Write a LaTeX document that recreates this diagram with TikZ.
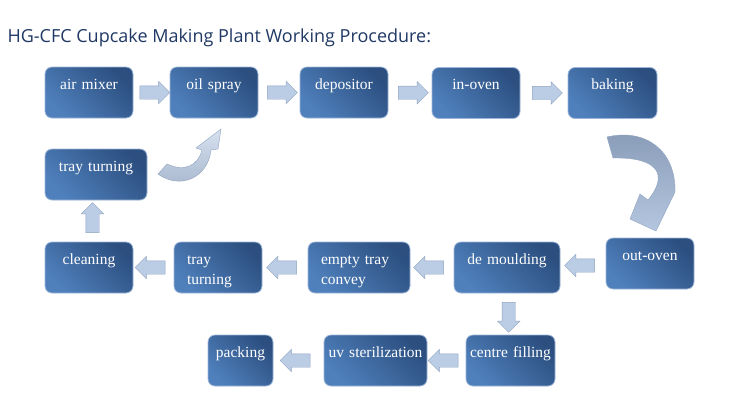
\documentclass[tikz,border=0pt]{standalone}
\usepackage{fontspec}
\setmainfont{Liberation Serif}
\newfontfamily\titlefont{Open Sans}
\usetikzlibrary{shapes.arrows,calc}

\definecolor{boxlight}{HTML}{4F80BC}
\definecolor{boxdark}{HTML}{2C4F80}
\definecolor{boxedge}{HTML}{9DB6D8}
\definecolor{arrowfill}{HTML}{BBCDE5}
\definecolor{arrowedge}{HTML}{8FA3C0}
\definecolor{titleblue}{HTML}{1F3864}

\tikzset{
  stepbox/.style={rounded corners=7pt, draw=boxedge, line width=0.8pt,
    top color=boxdark, bottom color=boxlight, shading angle=-45,
    text=white, font=\fontsize{15.5}{20}\selectfont,
    inner xsep=0pt, inner ysep=0pt, text width=#1, align=center,
    minimum height=51pt, text height=22pt, text depth=29pt},
  stepbox/.default=88pt,
  twoline/.style={inner xsep=13pt, text width=#1, align=left},
  flowarrow/.style={single arrow, fill=arrowfill, draw=arrowedge, line width=0.4pt,
    inner sep=6.5pt, single arrow head extend=4.5pt,
    minimum height=30pt},
  bendarrow/.style={draw=arrowedge, line width=0.4pt}
}

\begin{document}
\begin{tikzpicture}[x=1pt, y=-1pt]
          \useasboundingbox (0,0) rectangle (750,400);

          \node[anchor=base west, text=titleblue, font=\titlefont\fontsize{18}{22}\selectfont] (title) at (4,42) {HG-CFC Cupcake Making Plant Working Procedure:};

          % top row
          \node[stepbox] (am) at (89,92.5) {air mixer};
          \node[stepbox] (os) at (214,92.5) {oil spray};
          \node[stepbox] (dep) at (344,92.5) {depositor};
          \node[stepbox] (io) at (476,93) {in-oven};
          \node[stepbox=89pt] (bak) at (612.5,93) {baking};
          \node[stepbox=102pt] (tt1) at (96,174.5) {tray turning};

          % middle row
          \node[stepbox] (cl) at (89,267.5) {cleaning};
          \node[stepbox, twoline=62pt] (tt2) at (218,267.5) {tray\\turning};
          \node[stepbox, twoline=76pt] (etc) at (359,267.5) {empty tray\\convey};
          \node[stepbox=106pt] (dm) at (507,267.5) {de moulding};
          \node[stepbox] (oo) at (650,263.5) {out-oven};

          % bottom row
          \node[stepbox=65pt] (pk) at (240.5,360.5) {packing};
          \node[stepbox=103pt] (uv) at (375.5,360.5) {uv sterilization};
          \node[stepbox=89pt] (cf) at (510.5,360.5) {centre filling};

          \node[flowarrow] (a1) at ($(am.east)!.5!(os.west)$) {};
          \node[flowarrow] (a2) at ($(os.east)!.5!(dep.west)$) {};
          \node[flowarrow] (a3) at ($(dep.east)!.5!(io.west)$) {};
          \node[flowarrow] (a4) at ($(io.east)!.5!(bak.west)$) {};
          \node[flowarrow, shape border rotate=180] (a5) at ($(oo.west)!.5!(dm.east)$) {};
          \node[flowarrow, shape border rotate=180] (a6) at ($(dm.west)!.5!(etc.east)$) {};
          \node[flowarrow, shape border rotate=180] (a7) at ($(etc.west)!.5!(tt2.east)$) {};
          \node[flowarrow, shape border rotate=180] (a8) at ($(tt2.west)!.5!(cl.east)$) {};
          \node[flowarrow, shape border rotate=90] (a9) at ($(cl.north)!.5!(tt1.south)$) {};
          \node[flowarrow, shape border rotate=270] (a10) at ($(dm.south)!.5!(cf.north)$) {};
          \node[flowarrow, shape border rotate=180] (a11) at ($(cf.west)!.5!(uv.east)$) {};
          \node[flowarrow, shape border rotate=180] (a12) at ($(uv.west)!.5!(pk.east)$) {};

          % bent arrows
          \shade[bendarrow, top color=arrowfill!60!white, bottom color=arrowedge!80!white]
            (158,174) .. controls (180,190) and (208,178) .. (211,150) -- (218,149) -- (221,129)
            -- (196,148) -- (202,150) .. controls (198,166) and (184,172) .. (167,164) -- cycle;
          \shade[bendarrow, top color=arrowedge!95!black, bottom color=arrowfill!85!arrowedge]
            (607,137) .. controls (645,128) and (676,150) .. (675,192) -- (656,231) -- (630,219)
            -- (640,194) -- (648,200) .. controls (668,176) and (660,157) .. (613,158) -- cycle;
        \end{tikzpicture}
\end{document}
